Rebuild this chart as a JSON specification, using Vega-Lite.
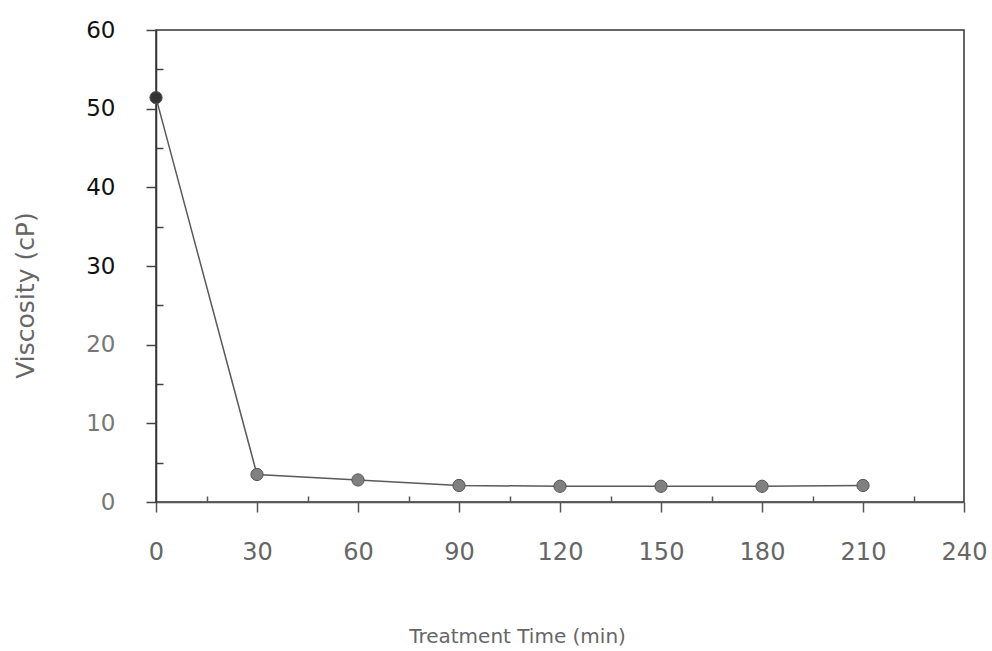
{
  "$schema": "https://vega.github.io/schema/vega-lite/v6.json",
  "autosize": "none",
  "width": 808,
  "height": 472,
  "padding": {"left": 156, "top": 30, "right": 28, "bottom": 149},
  "background": "white",
  "config": {
    "view": {"stroke": "#333333", "strokeWidth": 1.5},
    "font": "DejaVu Sans"
  },
  "data": {
    "values": [
      {"time": 0, "viscosity": 51.4},
      {"time": 30, "viscosity": 3.5},
      {"time": 60, "viscosity": 2.8},
      {"time": 90, "viscosity": 2.1},
      {"time": 120, "viscosity": 2.0},
      {"time": 150, "viscosity": 2.0},
      {"time": 180, "viscosity": 2.0},
      {"time": 210, "viscosity": 2.1}
    ]
  },
  "encoding": {
    "x": {
      "field": "time",
      "type": "quantitative",
      "scale": {"domain": [0, 240], "nice": false},
      "axis": {
        "title": "Treatment Time (min)",
        "titleFont": "DejaVu Sans",
        "titleFontSize": 20,
        "titleFontWeight": "normal",
        "titleColor": "#666666",
        "titleX": 361,
        "titleY": 134,
        "titleAlign": "center",
        "titleBaseline": "middle",
        "values": [0, 15, 30, 45, 60, 75, 90, 105, 120, 135, 150, 165, 180, 195, 210, 225, 240],
        "labelExpr": "datum.value % 30 === 0 ? datum.label : ''",
        "labelFont": "DejaVu Sans",
        "labelFontSize": 24,
        "labelColor": "#666666",
        "labelPadding": 28,
        "labelFlush": false,
        "labelOverlap": false,
        "grid": false,
        "domainColor": "#555555",
        "domainWidth": 1.5,
        "tickColor": "#555555",
        "tickWidth": 1.5,
        "tickSize": {"condition": {"test": "datum.value % 30 === 0", "value": 10}, "value": -6}
      }
    },
    "y": {
      "field": "viscosity",
      "type": "quantitative",
      "scale": {"domain": [0, 60], "nice": false},
      "axis": {
        "title": "Viscosity (cP)",
        "titleFont": "DejaVu Sans",
        "titleFontSize": 25,
        "titleFontWeight": "normal",
        "titleColor": "#666666",
        "titleAngle": 270,
        "titleX": -131,
        "titleY": 265,
        "titleAlign": "center",
        "titleBaseline": "middle",
        "values": [0, 5, 10, 15, 20, 25, 30, 35, 40, 45, 50, 55, 60],
        "labelExpr": "datum.value % 10 === 0 ? datum.label : ''",
        "labelFont": "DejaVu Sans",
        "labelFontSize": 23,
        "labelColor": {"condition": {"test": "datum.value >= 30", "value": "#111111"}, "value": "#777777"},
        "labelPadding": 31,
        "labelOverlap": false,
        "grid": false,
        "domainColor": "#333333",
        "domainWidth": 1.5,
        "tickColor": "#444444",
        "tickWidth": 1.5,
        "tickSize": {"condition": {"test": "datum.value % 10 === 0", "value": 10}, "value": -7}
      }
    }
  },
  "layer": [
    {
      "mark": {"type": "line", "color": "#5a5a5a", "strokeWidth": 1.5}
    },
    {
      "mark": {"type": "point", "filled": true, "size": 150, "opacity": 1, "stroke": "#555555", "strokeWidth": 1},
      "encoding": {
        "color": {
          "condition": {"test": "datum.time === 0", "value": "#333333"},
          "value": "#808080"
        }
      }
    }
  ]
}
